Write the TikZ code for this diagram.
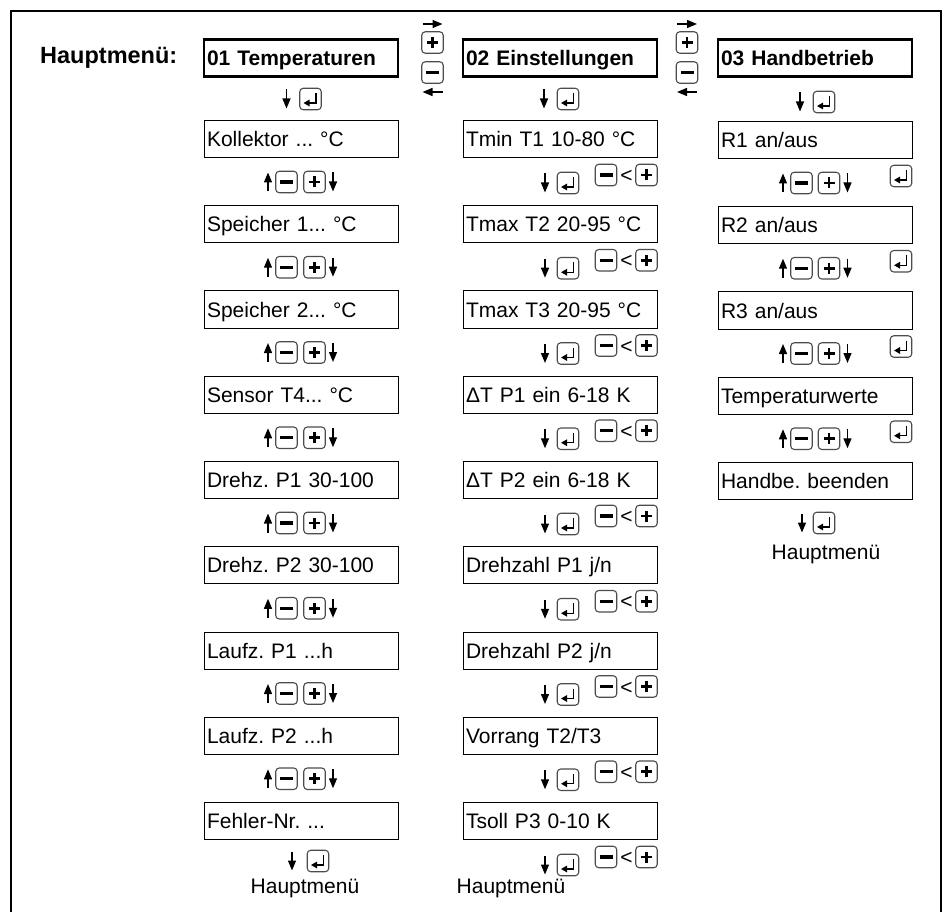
\documentclass[tikz,border=0pt]{standalone}
\usepackage{fontspec}
\setmainfont{Liberation Sans}
\usepackage{tikz}
\usetikzlibrary{positioning,arrows.meta,calc}
\frenchspacing
\newcommand{\minuskey}[2]{%
  \node[keybox] (#1) at (#2) {};
  \draw[sign, line width=3.4pt] ([xshift=-6.5pt]#1.center) -- ([xshift=6.5pt]#1.center);}
\newcommand{\pluskey}[2]{%
  \node[keybox] (#1) at (#2) {};
  \draw[sign] ([xshift=-5.5pt]#1.center) -- ([xshift=5.5pt]#1.center)
              ([yshift=-5.5pt]#1.center) -- ([yshift=5.5pt]#1.center);}
\newcommand{\enterkey}[2]{%
  \node[keybox] (#1) at (#2) {};
  \draw[line width=1.3pt, -{Triangle[length=6pt,width=6.5pt]}]
    ([xshift=5.5pt,yshift=6pt]#1.center) -- ([xshift=5.5pt,yshift=-4pt]#1.center) -- ([xshift=-7pt,yshift=-4pt]#1.center);}

\begin{document}
\begin{tikzpicture}[
  x=1pt, y=-1pt,
  font=\fontsize{21}{24}\selectfont,
  menubox/.style={draw, line width=1pt, minimum width=194pt, minimum height=37pt,
                  text width=188pt, inner xsep=3pt, text height=15pt, text depth=0pt, align=left},
  headbox/.style={menubox, line width=2.6pt, font=\fontsize{21}{24}\selectfont\bfseries},
  keybox/.style={draw=black!70, line width=1.1pt, rounded corners=3.5pt, minimum size=21.5pt, inner sep=0pt},
  sign/.style={line width=2.8pt},
  arr/.style={-{Triangle[length=10pt,width=8pt]}, line width=1.3pt},
  lab/.style={inner sep=0pt, text height=15pt, text depth=0pt}
]
\useasboundingbox (0,0) rectangle (943,912);
\draw[line width=1.4pt] (11,912) -- (11,11) -- (941,11) -- (941,912);
% ----- main menu row -----
\node[anchor=west, inner sep=0pt, text height=17pt, text depth=0pt,
      font=\fontsize{23.5}{26}\selectfont\bfseries] (title) at (40,55) {Hauptmenü:};
\node[headbox] (h1) at (301,58) {01 Temperaturen};
\node[headbox] (h2) at (560,58) {02 Einstellungen};
\node[headbox] (h3) at (815,58) {03 Handbetrieb};
\foreach \s/\x in {12/432.5, 23/687}{
  \pluskey{s\s p}{\x,42.5}
  \minuskey{s\s m}{\x,72.5}
  \draw[arr] ([xshift=-10pt,yshift=18.5pt]s\s p.center) -- ([xshift=10pt,yshift=18.5pt]s\s p.center);
  \draw[arr] ([xshift=10pt,yshift=-19.5pt]s\s m.center) -- ([xshift=-10pt,yshift=-19.5pt]s\s m.center);
}
\foreach \h/\x/\y in {1/310.5/99, 2/568/99, 3/824/102}{
  \enterkey{he\h}{\x,\y}
  \draw[arr] ([xshift=-24pt,yshift=9.5pt]he\h.center) -- ([xshift=-24pt,yshift=-9.5pt]he\h.center);
}
% ----- 01 Temperaturen -----
\foreach \i/\txt [evaluate=\i as \y using 139+(\i-1)*85.25] in
  {1/{Kollektor ... °C}, 2/{Speicher 1... °C}, 3/{Speicher 2... °C}, 4/{Sensor T4... °C},
   5/{Drehz. P1 30-100}, 6/{Drehz. P2 30-100}, 7/{Laufz. P1 ...h}, 8/{Laufz. P2 ...h}, 9/{Fehler-Nr. ...}}{
  \node[menubox] (t\i) at (301,\y) {\txt};
}
\foreach \i [evaluate=\i as \ym using 182+(\i-1)*85.25] in {1,2,3,4,5,6,7,8}{
  \minuskey{t\i m}{286.5,\ym}
  \pluskey{t\i p}{314.5,\ym}
  \draw[arr] ([xshift=-18.5pt,yshift=-9.5pt]t\i m.center) -- ([xshift=-18.5pt,yshift=9.5pt]t\i m.center);
  \draw[arr] ([xshift=18.5pt,yshift=9.5pt]t\i p.center) -- ([xshift=18.5pt,yshift=-9.5pt]t\i p.center);
}
\enterkey{t9e}{318,861}
\draw[arr] ([xshift=-26pt,yshift=9.5pt]t9e.center) -- ([xshift=-26pt,yshift=-9.5pt]t9e.center);
\node[lab] (back1) at (305,886) {Hauptmenü};
% ----- 02 Einstellungen -----
\foreach \i/\txt [evaluate=\i as \y using 139+(\i-1)*85.25] in
  {1/{Tmin T1 10-80 °C}, 2/{Tmax T2 20-95 °C}, 3/{Tmax T3 20-95 °C}, 4/{ΔT P1 ein 6-18 K},
   5/{ΔT P2 ein 6-18 K}, 6/{Drehzahl P1 j/n}, 7/{Drehzahl P2 j/n}, 8/{Vorrang T2/T3}, 9/{Tsoll P3 0-10 K}}{
  \node[menubox] (e\i) at (560,\y) {\txt};
}
\foreach \i [evaluate=\i as \ye using 183+(\i-1)*85.25, evaluate=\i as \yk using 175+(\i-1)*85.25] in {1,2,3,4,5,6,7,8,9}{
  \enterkey{e\i e}{568,\ye}
  \draw[arr] ([xshift=-23pt,yshift=9.5pt]e\i e.center) -- ([xshift=-23pt,yshift=-9.5pt]e\i e.center);
  \minuskey{e\i m}{606,\yk}
  \node[lab] (e\i lt) at (626.5,\yk) {<};
  \pluskey{e\i p}{646.5,\yk}
}
\node[lab] (back2) at (511,886) {Hauptmenü};
% ----- 03 Handbetrieb -----
\foreach \i/\txt [evaluate=\i as \y using 140+(\i-1)*85.25] in
  {1/{R1 an/aus}, 2/{R2 an/aus}, 3/{R3 an/aus}, 4/{Temperaturwerte}, 5/{Handbe. beenden}}{
  \node[menubox] (m\i) at (815,\y) {\txt};
}
\foreach \i [evaluate=\i as \ym using 183+(\i-1)*85.25, evaluate=\i as \yr using 176+(\i-1)*85.25] in {1,2,3,4}{
  \minuskey{m\i m}{801.5,\ym}
  \pluskey{m\i p}{829,\ym}
  \draw[arr] ([xshift=-18.5pt,yshift=-9.5pt]m\i m.center) -- ([xshift=-18.5pt,yshift=9.5pt]m\i m.center);
  \draw[arr] ([xshift=18.5pt,yshift=9.5pt]m\i p.center) -- ([xshift=18.5pt,yshift=-9.5pt]m\i p.center);
  \enterkey{m\i e}{901,\yr}
}
\enterkey{m5e}{824,523}
\draw[arr] ([xshift=-22pt,yshift=9.5pt]m5e.center) -- ([xshift=-22pt,yshift=-9.5pt]m5e.center);
\node[lab] (back3) at (826,552) {Hauptmenü};
\end{tikzpicture}
\end{document}
